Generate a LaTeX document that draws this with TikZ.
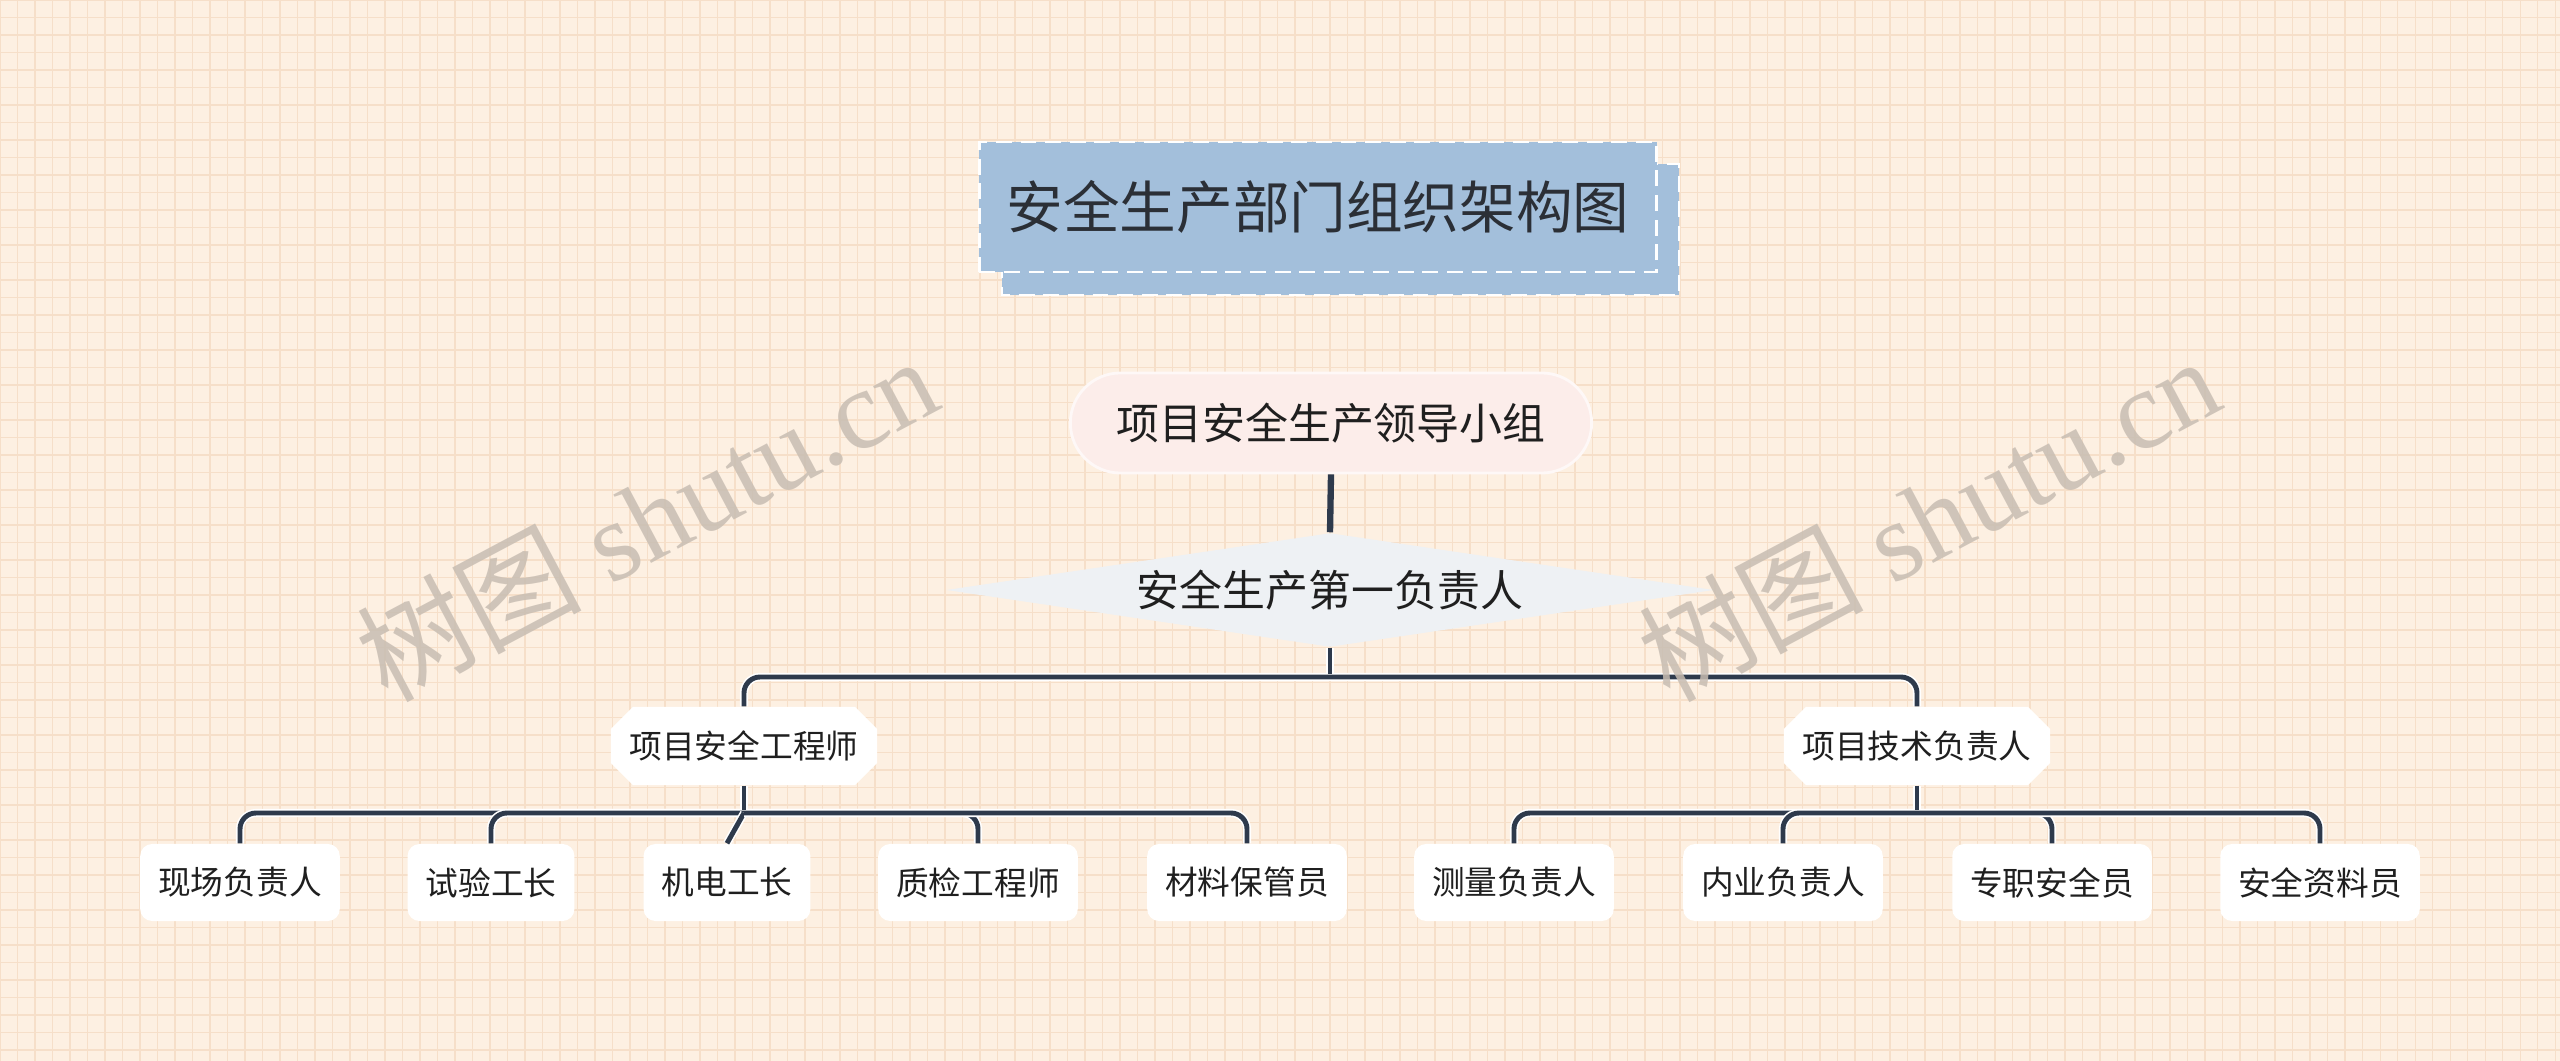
\documentclass[tikz,border=0pt]{standalone}
\usepackage{fontspec}
\newfontfamily\cjk{Noto Sans CJK SC}
\newfontfamily\wmfont{Liberation Serif}
\usetikzlibrary{shapes.geometric,shapes.misc}
\definecolor{bgc}{HTML}{FDF0E2}
\definecolor{gridc}{HTML}{F6DFC9}
\definecolor{titlefill}{HTML}{A3BFDB}
\definecolor{linec}{HTML}{2E3A4C}
\definecolor{pinkfill}{HTML}{FCEDEA}
\definecolor{diafill}{HTML}{EEF1F4}
\definecolor{textc}{HTML}{1F1F1F}
\definecolor{titletext}{HTML}{2B2F36}
\definecolor{wmc}{HTML}{C8BDB2}
\begin{document}
\begin{tikzpicture}[x=0.01cm,y=-0.01cm,
  gridline/.style={draw=gridc, line width=0.3pt},
  conn/.style={draw=linec, line width=1.4pt, preaction={draw=white, line width=2.3pt}},
  thickconn/.style={draw=linec, line width=1.8pt},
  titlebox/.style={rectangle, fill=titlefill, draw=white, line width=0.7pt, dash pattern=on 4.5pt off 2.5pt,
    minimum width=6.77cm, minimum height=1.30cm, inner sep=0pt, text=titletext,
    font=\cjk\fontsize{16.1pt}{19pt}\selectfont},
  titleback/.style={fill=titlefill, draw=white, line width=0.7pt, dash pattern=on 4.5pt off 2.5pt},
  pill/.style={rectangle, rounded corners=0.5cm, fill=pinkfill, draw=pinkfill!40!white, line width=0.8pt,
    minimum width=5.21cm, minimum height=1.0cm, inner sep=0pt, text=textc,
    font=\cjk\fontsize{12.2pt}{15pt}\selectfont},
  dia/.style={diamond, aspect=6.7, fill=diafill, minimum width=7.67cm, minimum height=1.14cm, inner sep=0pt,
    text=textc, font=\cjk\fontsize{12.2pt}{15pt}\selectfont},
  midnode/.style={chamfered rectangle, chamfered rectangle xsep=0.12cm, chamfered rectangle ysep=0.10cm,
    fill=white, minimum width=2.66cm, minimum height=0.78cm, inner xsep=0pt, inner ysep=0pt, text=textc,
    font=\cjk\fontsize{9.3pt}{11pt}\selectfont},
  leaf/.style={rectangle, fill=white, rounded corners=0.12cm, minimum height=0.77cm, inner xsep=0.18cm,
    inner ysep=0pt, text=textc, font=\cjk\fontsize{9.3pt}{11pt}\selectfont},
  wm/.style={text=wmc, opacity=0.85, inner sep=0pt, font=\wmfont\fontsize{32pt}{36pt}\selectfont}
]
\useasboundingbox (0,0) rectangle (2560,1061);
\fill[bgc] (0,0) rectangle (2560,1061);
\foreach \i in {0,...,146} \draw[gridline] (\i*17.5,0) -- (\i*17.5,1061);
\foreach \j in {0,...,60} \draw[gridline] (0,\j*17.5) -- (2560,\j*17.5);

% title
\path[titleback] (1002,164) rectangle (1679,295);
\node[titlebox] (title) at (1318,207) {安全生产部门组织架构图};

% main nodes
\node[pill] (lead) at (1331,423) {项目安全生产领导小组};
\node[dia] (first) at (1330,590) {安全生产第一负责人};
\node[midnode] (eng) at (744,746) {项目安全工程师};
\node[midnode] (tech) at (1917,746) {项目技术负责人};

\node[leaf] (l1) at (240,882.5) {现场负责人};
\node[leaf] (l2) at (491,882.5) {试验工长};
\node[leaf] (l3) at (727,882.5) {机电工长};
\node[leaf] (l4) at (978,882.5) {质检工程师};
\node[leaf] (l5) at (1247,882.5) {材料保管员};
\node[leaf] (r1) at (1514,882.5) {测量负责人};
\node[leaf] (r2) at (1783,882.5) {内业负责人};
\node[leaf] (r3) at (2052,882.5) {专职安全员};
\node[leaf] (r4) at (2320,882.5) {安全资料员};

\coordinate (j0) at (1330,677);
\coordinate (ja) at (744,813);
\coordinate (jb) at (1917,813);

% connectors
\draw[thickconn] (lead.south) -- (first.north);

\draw[conn, rounded corners=0.16cm] (j0) -| (eng.north);
\draw[conn, rounded corners=0.16cm] (j0) -| (tech.north);
\draw[conn] (first.south) -- ([yshift=0.75pt]j0);

\draw[conn, rounded corners=0.16cm] (ja) -| (l1.north);
\draw[conn, rounded corners=0.16cm] (ja) -| (l2.north);
\draw[conn] (ja) -- (l3.north);
\draw[conn, rounded corners=0.16cm] (ja) -| (l4.north);
\draw[conn, rounded corners=0.16cm] (ja) -| (l5.north);
\draw[conn] (eng.south) -- ([yshift=0.75pt]ja);

\draw[conn, rounded corners=0.16cm] (jb) -| (r1.north);
\draw[conn, rounded corners=0.16cm] (jb) -| (r2.north);
\draw[conn, rounded corners=0.16cm] (jb) -| (r3.north);
\draw[conn, rounded corners=0.16cm] (jb) -| (r4.north);
\draw[conn] (tech.south) -- ([yshift=0.75pt]jb);

% watermarks
\node[wm, rotate=28] (wm1) at (646,518) {{\cjk 树图} shutu.cn};
\node[wm, rotate=28] (wm2) at (1928,518) {{\cjk 树图} shutu.cn};
\end{tikzpicture}
\end{document}
